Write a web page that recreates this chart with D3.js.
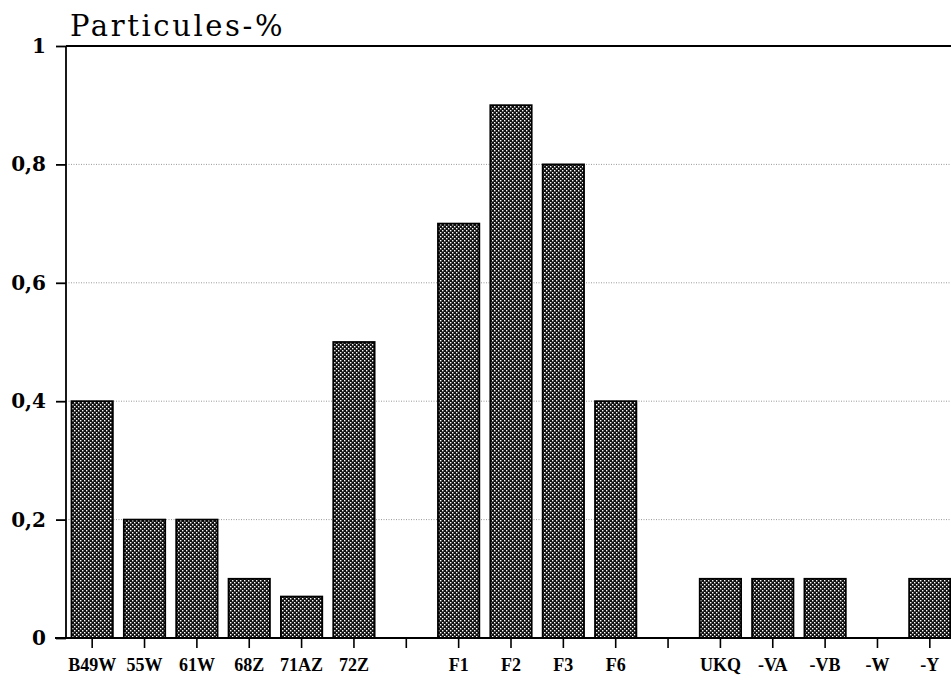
<!DOCTYPE html>
<html>
<head>
<meta charset="utf-8">
<script src="https://cdn.jsdelivr.net/npm/d3@7"></script>
<style>
  html, body { margin: 0; padding: 0; background: #fff; }
  svg { display: block; }
</style>
</head>
<body>
<svg id="chart" width="951" height="681"></svg>
<script>
// Particle share per sample, grouped in three series separated by empty slots
const categories = ["B49W", "55W", "61W", "68Z", "71AZ", "72Z", "", "F1", "F2", "F3", "F6", " ", "UKQ", "-VA", "-VB", "-W", "-Y"];
const values = [0.4, 0.2, 0.2, 0.1, 0.07, 0.5, 0, 0.7, 0.9, 0.8, 0.4, 0, 0.1, 0.1, 0.1, 0, 0.1];
const yTicks = [0, 0.2, 0.4, 0.6, 0.8, 1];
const yTickLabels = ["0", "0,2", "0,4", "0,6", "0,8", "1"];
const title = "Particules-%";

const svg = d3.select("#chart");
const plotLeft = 66, plotTop = 46, plotBottom = 638;

const x = d3.scaleBand()
  .domain(d3.range(categories.length))
  .range([plotLeft, 956])
  .paddingInner(0.21)
  .paddingOuter(0.105);

const y = d3.scaleLinear().domain([0, 1]).range([plotBottom, plotTop]);

// dotted halftone fill for the bars
const defs = svg.append("defs");
const pat = defs.append("pattern")
  .attr("id", "dots")
  .attr("patternUnits", "userSpaceOnUse")
  .attr("width", 4).attr("height", 4);
pat.append("rect").attr("width", 4).attr("height", 4).attr("fill", "#111");
pat.append("rect").attr("x", 0).attr("y", 0).attr("width", 1.4).attr("height", 1.4).attr("fill", "#fff");
pat.append("rect").attr("x", 2).attr("y", 2).attr("width", 1.4).attr("height", 1.4).attr("fill", "#fff");

// horizontal dotted grid
svg.append("g")
  .selectAll("line")
  .data(yTicks.filter(d => d > 0 && d < 1))
  .join("line")
  .attr("x1", plotLeft).attr("x2", 951)
  .attr("y1", d => y(d)).attr("y2", d => y(d))
  .attr("stroke", "#999")
  .attr("stroke-width", 1)
  .attr("stroke-dasharray", "1,1.5");

// bars (zero values leave their slot empty)
const barData = values.map((v, i) => ({ i, v })).filter(d => d.v > 0);
svg.append("g")
  .selectAll("rect")
  .data(barData)
  .join("rect")
  .attr("x", d => x(d.i))
  .attr("y", d => y(d.v))
  .attr("width", x.bandwidth())
  .attr("height", d => plotBottom - y(d.v))
  .attr("fill", "url(#dots)")
  .attr("stroke", "#000")
  .attr("stroke-width", 1.8);

// y axis
const yAxis = d3.axisLeft(y)
  .tickValues(yTicks)
  .tickFormat((d, i) => yTickLabels[i])
  .tickSize(10)
  .tickPadding(10);
const gy = svg.append("g").attr("transform", `translate(${plotLeft},0)`).call(yAxis);
gy.select(".domain").attr("stroke", "#000").attr("stroke-width", 1.8).attr("d", `M0,${plotTop}V${plotBottom}`);
gy.selectAll(".tick line").attr("stroke", "#000").attr("stroke-width", 1.8);
gy.selectAll(".tick text")
  .attr("fill", "#000")
  .style("font-family", "'DejaVu Serif', serif")
  .style("font-weight", "bold")
  .style("font-size", "20px");

// x axis (baseline with ticks below)
const xAxis = d3.axisBottom(x)
  .tickFormat(i => categories[i])
  .tickSizeInner(10)
  .tickSizeOuter(0)
  .tickPadding(10);
const gx = svg.append("g").attr("transform", `translate(0,${plotBottom})`).call(xAxis);
gx.select(".domain").attr("stroke", "#000").attr("stroke-width", 1.8).attr("d", `M${plotLeft - 11},0H951`);
gx.selectAll(".tick line").attr("stroke", "#000").attr("stroke-width", 1.6);
gx.selectAll(".tick text")
  .attr("fill", "#000")
  .style("font-family", "'Liberation Serif', serif")
  .style("font-weight", "bold")
  .style("font-size", "18px");

// top frame line
svg.append("line")
  .attr("x1", plotLeft).attr("x2", 951)
  .attr("y1", plotTop).attr("y2", plotTop)
  .attr("stroke", "#000").attr("stroke-width", 2);

// title
svg.append("text")
  .attr("x", 70).attr("y", 36)
  .attr("fill", "#000")
  .style("font-family", "'DejaVu Serif', serif")
  .style("font-size", "29px")
  .style("letter-spacing", "2.6px")
  .text(title);
</script>
</body>
</html>
